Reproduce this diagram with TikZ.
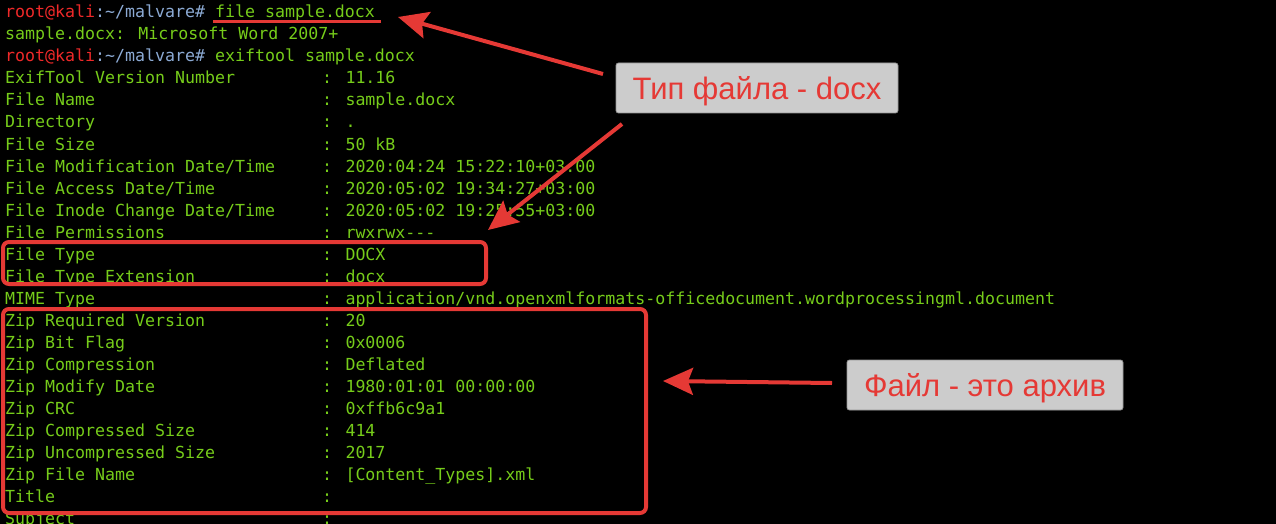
\documentclass[tikz,border=0pt]{standalone}
\usepackage{fontspec}
\usetikzlibrary{arrows.meta}
\newfontfamily\termfont[Ligatures=NoCommon]{DejaVu Sans Mono}
\newfontfamily\labelfont{Liberation Sans}
\definecolor{termgreen}{RGB}{118,204,26}
\definecolor{promptred}{RGB}{239,41,41}
\definecolor{promptblue}{RGB}{140,170,212}
\definecolor{annored}{RGB}{229,57,53}
\definecolor{labelgray}{RGB}{204,204,204}
\definecolor{labeledge}{RGB}{150,150,150}
\tikzset{
  term/.style={font=\termfont\fontsize{16.6}{20}\selectfont, text=termgreen, anchor=base west, inner sep=0pt},
  redbox/.style={draw=annored, line width=4pt, rounded corners=6pt, inner sep=0pt},
  labelbox/.style={fill=labelgray, draw=labeledge, line width=0.8pt, rounded corners=2.5pt,
    font=\labelfont\fontsize{31}{31}\selectfont, text=annored, inner sep=0pt,
    text height=22.5pt, text depth=0pt, minimum height=50pt},
  annoarrow/.style={draw=annored, line width=4pt, -{Stealth[length=30pt, width=27pt, inset=5pt]}},
  underl/.style={draw=annored, line width=3pt}
}
\newcommand{\promptstr}{\textcolor{promptred}{root@kali}\textcolor{promptblue}{:\textasciitilde/malvare\#}}
\begin{document}
\begin{tikzpicture}[x=1pt,y=-1pt]
\useasboundingbox (0,0) rectangle (1276,524);
\fill[black] (0,0) rectangle (1276,524);
\begin{scope}
\clip (0,0) rectangle (1276,524);
% terminal lines
\node[term] (l0) at (5,18) {\promptstr{} file sample.docx};
\node[term] (l1) at (5,40) {sample.docx: Microsoft Word 2007+};
\node[term] (l2) at (5,62) {\promptstr{} exiftool sample.docx};
\node[term] (k3) at (5,84) {ExifTool Version Number};
\node[term] (v3) at (322,84) {: 11.16};
\node[term] (k4) at (5,106) {File Name};
\node[term] (v4) at (322,106) {: sample.docx};
\node[term] (k5) at (5,128) {Directory};
\node[term] (v5) at (322,128) {: .};
\node[term] (k6) at (5,150) {File Size};
\node[term] (v6) at (322,150) {: 50 kB};
\node[term] (k7) at (5,172) {File Modification Date/Time};
\node[term] (v7) at (322,172) {: 2020:04:24 15:22:10+03:00};
\node[term] (k8) at (5,194) {File Access Date/Time};
\node[term] (v8) at (322,194) {: 2020:05:02 19:34:27+03:00};
\node[term] (k9) at (5,216) {File Inode Change Date/Time};
\node[term] (v9) at (322,216) {: 2020:05:02 19:25:55+03:00};
\node[term] (k10) at (5,238) {File Permissions};
\node[term] (v10) at (322,238) {: rwxrwx-{}-{}-};
\node[term] (k11) at (5,260) {File Type};
\node[term] (v11) at (322,260) {: DOCX};
\node[term] (k12) at (5,282) {File Type Extension};
\node[term] (v12) at (322,282) {: docx};
\node[term] (k13) at (5,304) {MIME Type};
\node[term] (v13) at (322,304) {: application/vnd.openxmlformats-officedocument.wordprocessingml.document};
\node[term] (k14) at (5,326) {Zip Required Version};
\node[term] (v14) at (322,326) {: 20};
\node[term] (k15) at (5,348) {Zip Bit Flag};
\node[term] (v15) at (322,348) {: 0x0006};
\node[term] (k16) at (5,370) {Zip Compression};
\node[term] (v16) at (322,370) {: Deflated};
\node[term] (k17) at (5,392) {Zip Modify Date};
\node[term] (v17) at (322,392) {: 1980:01:01 00:00:00};
\node[term] (k18) at (5,414) {Zip CRC};
\node[term] (v18) at (322,414) {: 0xffb6c9a1};
\node[term] (k19) at (5,436) {Zip Compressed Size};
\node[term] (v19) at (322,436) {: 414};
\node[term] (k20) at (5,458) {Zip Uncompressed Size};
\node[term] (v20) at (322,458) {: 2017};
\node[term] (k21) at (5,480) {Zip File Name};
\node[term] (v21) at (322,480) {: [Content\_Types].xml};
\node[term] (k22) at (5,502) {Title};
\node[term] (v22) at (322,502) {:};
\node[term] (k23) at (5,524) {Subject};
\node[term] (v23) at (322,524) {:};
% underline of the command
\coordinate (u1) at (213,21.5);
\coordinate (u2) at (381,21.5);
\draw[underl] (u1) -- (u2);
% red frames
\node[redbox, minimum width=483pt, minimum height=42pt] (box1) at (244.5,263) {};
\node[redbox, minimum width=643pt, minimum height=204pt] (box2) at (324.5,411) {};
% labels
\node[labelbox, minimum width=282pt] (lab1) at (757,88) {Тип файла - docx};
\node[labelbox, minimum width=276pt] (lab2) at (985,385) {Файл - это архив};
% arrows
\coordinate (a1s) at (603,74);
\coordinate (a1e) at (398,17);
\coordinate (a2s) at (622,124);
\coordinate (a2e) at (488,230);
\coordinate (a3s) at (832,383);
\coordinate (a3e) at (663,381);
\draw[annoarrow] (a1s) -- (a1e);
\draw[annoarrow] (a2s) -- (a2e);
\draw[annoarrow] (a3s) -- (a3e);
\end{scope}
\end{tikzpicture}
\end{document}
